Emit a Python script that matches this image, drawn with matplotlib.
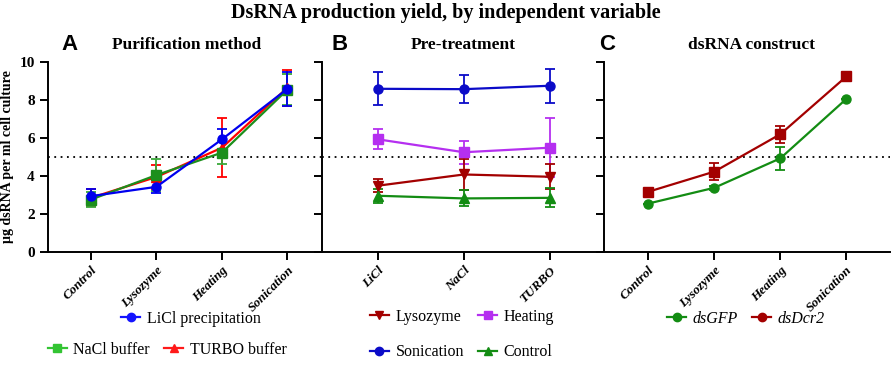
import matplotlib
matplotlib.use("Agg")

import matplotlib.pyplot as plt
from matplotlib.lines import Line2D

# ---- data ----
methods = ["Control", "Lysozyme", "Heating", "Sonication"]
licl_mean = [2.94, 3.43, 5.93, 8.59]
licl_err = [0.38, 0.35, 0.55, 0.88]
nacl_mean = [2.76, 4.05, 5.23, 8.55]
nacl_err = [0.40, 0.85, 0.62, 0.80]
turbo_mean = [2.85, 3.95, 5.49, 8.65]
turbo_err = [0.45, 0.65, 1.55, 0.95]

reagents = ["LiCl", "NaCl", "TURBO"]
lyso_mean = [3.49, 4.08, 3.96]
lyso_err = [0.35, 0.80, 0.65]
heat_mean = [5.93, 5.25, 5.49]
heat_err = [0.53, 0.60, 1.55]
soni_mean = [8.59, 8.57, 8.75]
soni_err = [0.87, 0.72, 0.90]
ctrl_mean = [2.96, 2.82, 2.85]
ctrl_err = [0.38, 0.42, 0.50]

gfp_mean = [2.55, 3.38, 4.93, 8.06]
gfp_err = [0.0, 0.12, 0.60, 0.0]
dcr_mean = [3.17, 4.23, 6.20, 9.24]
dcr_err = [0.0, 0.45, 0.45, 0.0]

SERIF = "Liberation Serif"
SANS = "Liberation Sans"

fig = plt.figure(figsize=(8.92, 3.76), dpi=100)
W, H = 892, 376


def add_ax(x0, x1, y0=62, y1=252):
    return fig.add_axes([x0 / W, 1 - y1 / H, (x1 - x0) / W, (y1 - y0) / H])


axA = add_ax(48, 322)
axB = add_ax(322, 604)
axC = add_ax(604, 890)


def series(ax, x, y, e, color, marker, ecolor=None):
    ax.errorbar(x, y, yerr=e, color=color, marker=marker, markersize=6.5,
                linewidth=1.6, elinewidth=1.3, capsize=3.5, capthick=1.3,
                ecolor=ecolor or color, clip_on=False, zorder=3)


xa = list(range(len(methods)))
series(axA, xa, turbo_mean, turbo_err, "#ff0000", "^")
series(axA, xa, nacl_mean, nacl_err, "#1c8f1c", "s", "#3aa83a")
series(axA, xa, licl_mean, licl_err, "#0000ee", "o")

xb = list(range(len(reagents)))
series(axB, xb, soni_mean, soni_err, "#0b0bc8", "o")
series(axB, xb, heat_mean, heat_err, "#b52ff0", "s")
series(axB, xb, lyso_mean, lyso_err, "#a30000", "v")
series(axB, xb, ctrl_mean, ctrl_err, "#138c13", "^")

series(axC, xa, gfp_mean, gfp_err, "#138c13", "o")
series(axC, xa, dcr_mean, dcr_err, "#a30000", "s")

limits = {axA: (-0.656, 3.527), axB: (-0.65, 2.63), axC: (-0.67, 3.66)}
labels = {axA: methods, axB: reagents, axC: methods}

for ax in (axA, axB, axC):
    ax.set_xlim(*limits[ax])
    ax.set_ylim(0, 10)
    ax.axhline(5, color="black", linestyle=(0, (1, 2.5)), linewidth=1.3, zorder=1)
    for s in ("top", "right"):
        ax.spines[s].set_visible(False)
    for s in ("left", "bottom"):
        ax.spines[s].set_linewidth(1.4)
    ax.set_yticks(range(0, 11, 2))
    ax.set_xticks(range(len(labels[ax])))
    ax.set_xticklabels(labels[ax], rotation=45, ha="right", rotation_mode="anchor",
                       fontfamily=SERIF, fontweight="bold", fontstyle="italic",
                       fontsize=9.5)
    ax.tick_params(axis="both", width=1.4, length=6, direction="out")
    ax.tick_params(axis="x", pad=3)
    ax.patch.set_alpha(0)

axA.set_yticklabels([str(v) for v in range(0, 11, 2)], fontfamily=SERIF,
                    fontweight="bold", fontsize=11)
axB.set_yticklabels([])
axC.set_yticklabels([])
axA.set_ylabel("µg dsRNA per ml cell culture", fontfamily=SERIF,
               fontweight="bold", fontsize=10, labelpad=4)

fig.text(446 / W, 1 - 13 / H, "DsRNA production yield, by independent variable",
         ha="center", va="center", fontfamily=SERIF, fontweight="bold", fontsize=14.5)

for x, title in [(187, "Purification method"), (463, "Pre-treatment"), (752, "dsRNA construct")]:
    fig.text(x / W, 1 - 45 / H, title, ha="center", va="center",
             fontfamily=SERIF, fontweight="bold", fontsize=12.5)
for x, letter in [(70, "A"), (340, "B"), (607, "C")]:
    fig.text(x / W, 1 - 45 / H, letter, ha="center", va="center",
             fontfamily=SANS, fontweight="bold", fontsize=16)


def handle(color, marker):
    return Line2D([], [], color=color, marker=marker, markersize=6, linewidth=1.6)


leg_kw = dict(frameon=False, prop={"family": SERIF, "size": 11.5}, handlelength=1.2,
              handletextpad=0.4, columnspacing=0.9, borderaxespad=0, borderpad=0)

fig.legend([handle("#1414ff", "o")], ["LiCl precipitation"],
           loc="center", bbox_to_anchor=(191 / W, 1 - 319 / H), **leg_kw)
fig.legend([handle("#33c433", "s"), handle("#ff1a1a", "^")],
           ["NaCl buffer", "TURBO buffer"], ncol=2,
           loc="center", bbox_to_anchor=(167 / W, 1 - 350 / H), **leg_kw)
fig.legend([handle("#a30000", "v"), handle("#0b0bc8", "o"),
            handle("#b52ff0", "s"), handle("#138c13", "^")],
           ["Lysozyme", "Sonication", "Heating", "Control"], ncol=2,
           loc="center", bbox_to_anchor=(462 / W, 1 - 334.5 / H),
           labelspacing=1.25, **leg_kw)
fig.legend([handle("#138c13", "o"), handle("#a30000", "o")],
           ["dsGFP", "dsDcr2"], ncol=2,
           loc="center", bbox_to_anchor=(746 / W, 1 - 319 / H),
           **{**leg_kw, "prop": {"family": SERIF, "size": 11.5, "style": "italic"}})

fig.savefig("out.png", dpi=100)
